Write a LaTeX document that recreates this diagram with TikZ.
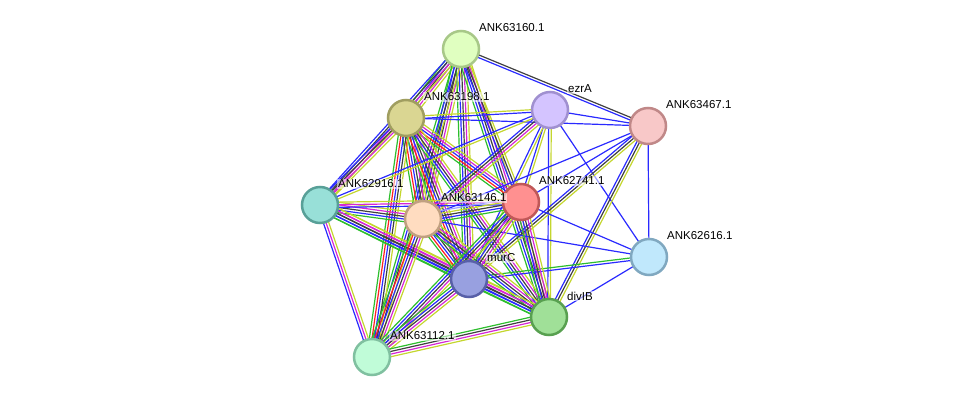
\documentclass[tikz,border=0pt]{standalone}
\usepackage{fontspec}
\setmainfont{Liberation Sans}
\usetikzlibrary{calc}

\definecolor{nb}{HTML}{2DBE2D}   % neighborhood
\definecolor{fu}{HTML}{FF2020}   % fusion
\definecolor{co}{HTML}{2A2AFF}   % co-occurrence
\definecolor{cx}{HTML}{404040}   % co-expression
\definecolor{ex}{HTML}{D626D6}   % experiments
\definecolor{tm}{HTML}{C4D62E}   % text mining
\definecolor{ho}{HTML}{A0A0FF}   % homology

\pgfdeclarelayer{background}
\pgfsetlayers{background,main}

% one bundle of parallel evidence lines between two proteins
\newcommand{\ppi}[3]{%
  \foreach \c [count=\k] in {#3} {\xdef\nlines{\k}}%
  \foreach \c [count=\k] in {#3} {%
    \pgfmathsetmacro{\off}{(\k-(\nlines+1)/2)*2.6}%
    \draw[evidence,\c] ($(#1)!\off pt!90:(#2)$) -- ($(#2)!\off pt!-90:(#1)$);
  }}

\begin{document}
\begin{tikzpicture}[x=1pt,y=-1pt,
    protein/.style={circle,minimum size=36pt,inner sep=0pt,line width=2.5pt},
    lbl/.style={anchor=west,font=\fontsize{11.5}{13}\selectfont,inner sep=1pt,
                fill=white,fill opacity=0.55,text opacity=1},
    evidence/.style={line width=1.2pt}]

  \useasboundingbox (0,0) rectangle (975,404);

  % --- proteins ---
  \node[protein,fill={rgb,255:red,224;green,255;blue,192},draw={rgb,255:red,168;green,200;blue,136}] (n63160) at (461,49) {};
  \node[protein,fill={rgb,255:red,218;green,214;blue,146},draw={rgb,255:red,160;green,158;blue,96}]  (n63198) at (406,118) {};
  \node[protein,fill={rgb,255:red,212;green,196;blue,255},draw={rgb,255:red,160;green,144;blue,208}] (ezrA)   at (550,110) {};
  \node[protein,fill={rgb,255:red,248;green,200;blue,200},draw={rgb,255:red,192;green,136;blue,136}] (n63467) at (648,126) {};
  \node[protein,fill={rgb,255:red,152;green,224;blue,216},draw={rgb,255:red,88;green,160;blue,152}]  (n62916) at (320,205) {};
  \node[protein,fill={rgb,255:red,255;green,144;blue,144},draw={rgb,255:red,192;green,88;blue,88}]   (n62741) at (521,202) {};
  \node[protein,fill={rgb,255:red,255;green,220;blue,192},draw={rgb,255:red,192;green,160;blue,128}] (n63146) at (423,219) {};
  \node[protein,fill={rgb,255:red,192;green,232;blue,252},draw={rgb,255:red,128;green,168;blue,192}] (n62616) at (649,257) {};
  \node[protein,fill={rgb,255:red,152;green,160;blue,224},draw={rgb,255:red,88;green,96;blue,168}]   (murC)   at (469,279) {};
  \node[protein,fill={rgb,255:red,160;green,224;blue,152},draw={rgb,255:red,88;green,160;blue,80}]   (divIB)  at (549,317) {};
  \node[protein,fill={rgb,255:red,192;green,252;blue,216},draw={rgb,255:red,128;green,192;blue,160}] (n63112) at (372,357) {};

  % --- evidence bundles ---
  \begin{pgfonlayer}{background}
    \ppi{n63160}{n63467}{co,cx}
    \ppi{n63160}{n63198}{nb,co,cx,ex,tm}
    \ppi{n63160}{n62916}{co,cx,ex,tm}
    \ppi{n63160}{n63146}{nb,co,cx,ex,tm}
    \ppi{n63160}{murC}{nb,co,cx,ex,tm}
    \ppi{n63160}{divIB}{nb,co,cx,ex,tm}
    \ppi{n63160}{n62741}{co,cx,tm}
    \ppi{n63160}{n63112}{nb,co,cx,tm}
    \ppi{n63198}{ezrA}{co,tm}
    \ppi{n63198}{n63467}{co}
    \ppi{n63198}{n62916}{co,cx,ex,tm}
    \ppi{n63198}{n63146}{nb,fu,co,cx,ex,tm}
    \ppi{n63198}{n62741}{nb,fu,co,ex,tm}
    \ppi{n63198}{murC}{nb,fu,co,cx,ex,tm}
    \ppi{n63198}{divIB}{nb,co,cx,ex,tm}
    \ppi{n63198}{n63112}{nb,fu,co,cx,tm}
    \ppi{ezrA}{n63467}{co}
    \ppi{ezrA}{n62741}{co,tm}
    \ppi{ezrA}{n63146}{co,cx,ex,tm}
    \ppi{ezrA}{n62916}{co,tm}
    \ppi{ezrA}{murC}{co,tm}
    \ppi{ezrA}{divIB}{co,tm}
    \ppi{ezrA}{n62616}{co}
    \ppi{n63467}{n62741}{co}
    \ppi{n63467}{murC}{co,cx,tm}
    \ppi{n63467}{divIB}{co,cx,tm}
    \ppi{n63467}{n62616}{co}
    \ppi{n63467}{n63146}{co}
    \ppi{n62616}{n62741}{co}
    \ppi{n62616}{murC}{nb,co}
    \ppi{n62616}{divIB}{co}
    \ppi{n62616}{n63146}{co}
    \ppi{n62916}{n63146}{nb,co,cx,ex,tm}
    \ppi{n62916}{n62741}{co,ex,tm}
    \ppi{n62916}{murC}{nb,co,cx,ex,tm}
    \ppi{n62916}{divIB}{nb,co,cx,ex,tm}
    \ppi{n62916}{n63112}{co,ex,tm}
    \ppi{n63146}{n62741}{nb,co,cx,tm,ho}
    \ppi{n63146}{murC}{nb,fu,co,cx,ex,tm}
    \ppi{n63146}{divIB}{nb,co,cx,ex,tm}
    \ppi{n63146}{n63112}{nb,fu,co,cx,ex,tm}
    \ppi{n62741}{murC}{nb,co,cx,ex,tm}
    \ppi{n62741}{divIB}{nb,co,cx,ex,tm}
    \ppi{n62741}{n63112}{nb,co,cx,ex,tm}
    \ppi{murC}{divIB}{nb,co,cx,ex,tm}
    \ppi{murC}{n63112}{nb,co,cx,ex,tm}
    \ppi{divIB}{n63112}{nb,cx,ex,tm}
  \end{pgfonlayer}

  % --- labels ---
  \node[lbl] at ($(n63160)+(17,-21)$) {ANK63160.1};
  \node[lbl] at ($(n63198)+(17,-21)$) {ANK63198.1};
  \node[lbl] at ($(ezrA)+(17,-21)$)   {ezrA};
  \node[lbl] at ($(n63467)+(17,-21)$) {ANK63467.1};
  \node[lbl] at ($(n62916)+(17,-21)$) {ANK62916.1};
  \node[lbl] at ($(n62741)+(17,-21)$) {ANK62741.1};
  \node[lbl] at ($(n63146)+(17,-21)$) {ANK63146.1};
  \node[lbl] at ($(n62616)+(17,-21)$) {ANK62616.1};
  \node[lbl] at ($(murC)+(17,-21)$)   {murC};
  \node[lbl] at ($(divIB)+(17,-21)$)  {divIB};
  \node[lbl] at ($(n63112)+(17,-21)$) {ANK63112.1};
\end{tikzpicture}
\end{document}
